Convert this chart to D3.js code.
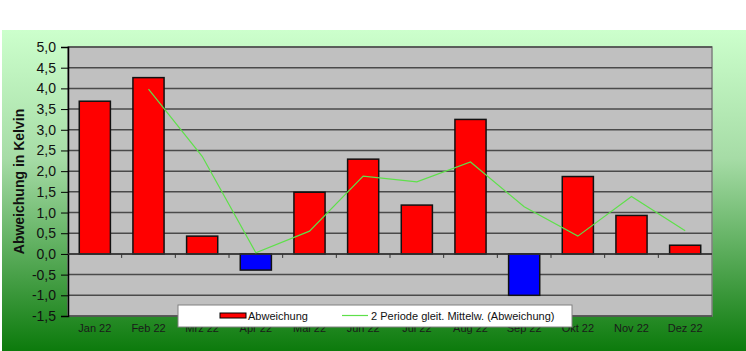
<!DOCTYPE html>
<html>
<head>
<meta charset="utf-8">
<script src="https://cdn.jsdelivr.net/npm/d3@7"></script>
<style>
  body { margin: 0; background: #fff; }
  svg { display: block; font-family: "Liberation Sans", Arial, sans-serif; }
</style>
</head>
<body>
<svg id="chart"></svg>
<script>
// data
const months = ['Jan 22', 'Feb 22', 'Mrz 22', 'Apr 22', 'Mai 22', 'Jun 22', 'Jul 22', 'Aug 22', 'Sep 22', 'Okt 22', 'Nov 22', 'Dez 22'];
const abweichung = [3.69, 4.26, 0.43, -0.39, 1.49, 2.29, 1.18, 3.25, -1.0, 1.87, 0.93, 0.21];
const mittel = [null, 3.98, 2.36, 0.03, 0.55, 1.88, 1.74, 2.22, 1.14, 0.43, 1.39, 0.56];
const yTicks = [-1.5, -1.0, -0.5, 0, 0.5, 1.0, 1.5, 2.0, 2.5, 3.0, 3.5, 4.0, 4.5, 5.0];

const W = 746, H = 351;
const plot = { left: 68, right: 712, top: 47, bottom: 316 };

const svg = d3.select('#chart').attr('width', W).attr('height', H);

const defs = svg.append('defs');
const grad = defs.append('linearGradient').attr('id', 'bg').attr('x1', 0).attr('y1', 0).attr('x2', 0).attr('y2', 1);
grad.append('stop').attr('offset', '0%').attr('stop-color', '#ccffcc');
grad.append('stop').attr('offset', '40%').attr('stop-color', '#a6dca6');
grad.append('stop').attr('offset', '100%').attr('stop-color', '#0c7a0c');

svg.append('rect').attr('x', 2).attr('y', 30).attr('width', W - 2).attr('height', H - 30).attr('fill', 'url(#bg)');

const x = d3.scaleBand().domain(months).range([plot.left, plot.right]).paddingInner(0.42).paddingOuter(0.21);
const xc = d3.scaleBand().domain(months).range([plot.left, plot.right]);
const y = d3.scaleLinear().domain([-1.5, 5]).range([plot.bottom, plot.top]);

// plot background
svg.append('rect').attr('x', plot.left).attr('y', plot.top)
  .attr('width', plot.right - plot.left).attr('height', plot.bottom - plot.top)
  .attr('fill', '#c0c0c0').attr('stroke', '#808080').attr('stroke-width', 1.5);

// grid
svg.append('g').selectAll('line').data(yTicks).join('line')
  .attr('x1', plot.left).attr('x2', plot.right)
  .attr('y1', d => y(d)).attr('y2', d => y(d))
  .attr('stroke', '#4a4a4a').attr('stroke-width', 1.5);

// y axis
const yAxis = d3.axisLeft(y).tickValues(yTicks).tickSize(7).tickPadding(5)
  .tickFormat(d => d3.format('.1f')(d).replace('.', ',').replace('−', '-'));
const yG = svg.append('g').attr('transform', `translate(${plot.left},0)`).call(yAxis);
yG.select('.domain').attr('stroke', '#000').attr('stroke-width', 1.5);
yG.selectAll('.tick line').attr('stroke', '#000');
yG.selectAll('text').attr('font-size', 14).attr('fill', '#111').attr('font-family', '"Liberation Sans", Arial, sans-serif');

// bars
svg.append('g').selectAll('rect').data(abweichung).join('rect')
  .attr('x', (d, i) => x(months[i]))
  .attr('width', x.bandwidth())
  .attr('y', d => y(Math.max(0, d)))
  .attr('height', d => Math.abs(y(d) - y(0)))
  .attr('fill', d => d < 0 ? '#0000ff' : '#ff0000')
  .attr('stroke', '#111').attr('stroke-width', 1.5);

// x axis at zero
const xAxisG = svg.append('g').attr('transform', `translate(0,${y(0)})`);
xAxisG.append('line').attr('x1', plot.left).attr('x2', plot.right).attr('stroke', '#333').attr('stroke-width', 1.5);
xAxisG.selectAll('.tk').data(months.slice(1)).join('line').attr('class', 'tk')
  .attr('x1', d => xc(d)).attr('x2', d => xc(d)).attr('y1', 0).attr('y2', 4)
  .attr('stroke', '#333');

// x labels
svg.append('g').selectAll('text').data(months).join('text')
  .attr('x', d => xc(d) + xc.bandwidth() / 2).attr('y', 332)
  .attr('text-anchor', 'middle').attr('font-size', 11).attr('fill', '#1a1a1a')
  .text(d => d);

// moving average
const line = d3.line().defined(d => d != null)
  .x((d, i) => xc(months[i]) + xc.bandwidth() / 2).y(d => y(d));
svg.append('path').datum(mittel).attr('d', line)
  .attr('fill', 'none').attr('stroke', '#5ee04a').attr('stroke-width', 1.2);

// y title
svg.append('text').attr('transform', `translate(24,${(plot.top + plot.bottom) / 2}) rotate(-90)`)
  .attr('text-anchor', 'middle').attr('font-size', 14).attr('font-weight', 'bold').attr('fill', '#111')
  .text('Abweichung in Kelvin');

// legend
const lg = svg.append('g');
lg.append('rect').attr('x', 178).attr('y', 305).attr('width', 394).attr('height', 22)
  .attr('fill', '#fff').attr('stroke', '#808080').attr('stroke-width', 1);
lg.append('rect').attr('x', 220).attr('y', 313).attr('width', 26).attr('height', 5)
  .attr('fill', '#ff0000').attr('stroke', '#000').attr('stroke-width', 1);
lg.append('text').attr('x', 248).attr('y', 320).attr('font-size', 11).attr('fill', '#111').text('Abweichung');
lg.append('line').attr('x1', 342).attr('x2', 368).attr('y1', 315.5).attr('y2', 315.5)
  .attr('stroke', '#5ee04a').attr('stroke-width', 1.2);
lg.append('text').attr('x', 371).attr('y', 320).attr('font-size', 11).attr('fill', '#111')
  .text('2 Periode gleit. Mittelw. (Abweichung)');
</script>
</body>
</html>
